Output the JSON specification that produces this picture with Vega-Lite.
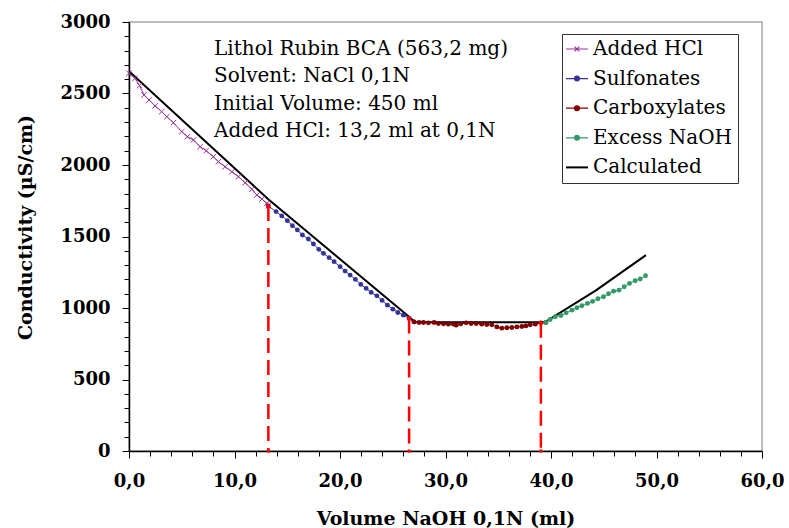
{
  "$schema": "https://vega.github.io/schema/vega-lite/v6.json",
  "width": 633,
  "height": 429,
  "autosize": {"type": "none"},
  "padding": {"left": 129, "top": 22, "right": 27, "bottom": 77},
  "background": "white",
  "config": {
    "view": {"stroke": "#a6a6a6", "strokeWidth": 1.5},
    "axis": {
      "grid": false,
      "domainColor": "black",
      "domainWidth": 1.5,
      "tickColor": "black",
      "tickWidth": 1,
      "labelFont": "DejaVu Serif",
      "labelFontWeight": "bold",
      "labelFontSize": 18,
      "labelColor": "black",
      "titleFont": "DejaVu Serif",
      "titleFontWeight": "bold",
      "titleFontSize": 19,
      "titleColor": "black",
      "labelFlush": false
    },
    "legend": {"labelFont": "DejaVu Serif", "labelFontSize": 20, "labelColor": "black"}
  },
  "datasets": {
    "series": [
      {"series": "Calculated", "x": 0, "y": 2655},
      {"series": "Calculated", "x": 13.2, "y": 1761},
      {"series": "Calculated", "x": 26.6, "y": 935},
      {"series": "Calculated", "x": 27.1, "y": 900},
      {"series": "Calculated", "x": 39.4, "y": 900},
      {"series": "Calculated", "x": 44.3, "y": 1125},
      {"series": "Calculated", "x": 49.0, "y": 1370},

      {"series": "Added HCl", "x": 0, "y": 2641},
      {"series": "Added HCl", "x": 0.57, "y": 2606},
      {"series": "Added HCl", "x": 1.0, "y": 2555},
      {"series": "Added HCl", "x": 1.42, "y": 2490},
      {"series": "Added HCl", "x": 1.9, "y": 2455},
      {"series": "Added HCl", "x": 2.47, "y": 2413},
      {"series": "Added HCl", "x": 3.1, "y": 2373},
      {"series": "Added HCl", "x": 3.58, "y": 2338},
      {"series": "Added HCl", "x": 4.21, "y": 2296},
      {"series": "Added HCl", "x": 5.0, "y": 2233},
      {"series": "Added HCl", "x": 5.54, "y": 2198},
      {"series": "Added HCl", "x": 6.11, "y": 2175},
      {"series": "Added HCl", "x": 6.74, "y": 2128},
      {"series": "Added HCl", "x": 7.31, "y": 2100},
      {"series": "Added HCl", "x": 8.0, "y": 2058},
      {"series": "Added HCl", "x": 8.48, "y": 2023},
      {"series": "Added HCl", "x": 9.11, "y": 1988},
      {"series": "Added HCl", "x": 9.75, "y": 1953},
      {"series": "Added HCl", "x": 10.38, "y": 1918},
      {"series": "Added HCl", "x": 11.01, "y": 1876},
      {"series": "Added HCl", "x": 11.65, "y": 1830},
      {"series": "Added HCl", "x": 12.12, "y": 1790},
      {"series": "Added HCl", "x": 12.6, "y": 1762},
      {"series": "Added HCl", "x": 13.07, "y": 1732},
      {"series": "Added HCl", "x": 13.2, "y": 1714},

      {"series": "Sulfonates", "x": 13.2, "y": 1714},
      {"series": "Sulfonates", "x": 13.94, "y": 1674},
      {"series": "Sulfonates", "x": 14.48, "y": 1644},
      {"series": "Sulfonates", "x": 15.01, "y": 1611},
      {"series": "Sulfonates", "x": 15.49, "y": 1576},
      {"series": "Sulfonates", "x": 15.96, "y": 1546},
      {"series": "Sulfonates", "x": 16.44, "y": 1511},
      {"series": "Sulfonates", "x": 17.0, "y": 1483},
      {"series": "Sulfonates", "x": 17.48, "y": 1448},
      {"series": "Sulfonates", "x": 17.99, "y": 1410},
      {"series": "Sulfonates", "x": 18.43, "y": 1382},
      {"series": "Sulfonates", "x": 18.97, "y": 1352},
      {"series": "Sulfonates", "x": 19.44, "y": 1324},
      {"series": "Sulfonates", "x": 20.01, "y": 1289},
      {"series": "Sulfonates", "x": 20.48, "y": 1258},
      {"series": "Sulfonates", "x": 20.96, "y": 1230},
      {"series": "Sulfonates", "x": 21.46, "y": 1200},
      {"series": "Sulfonates", "x": 21.97, "y": 1165},
      {"series": "Sulfonates", "x": 22.48, "y": 1137},
      {"series": "Sulfonates", "x": 22.95, "y": 1109},
      {"series": "Sulfonates", "x": 23.49, "y": 1085},
      {"series": "Sulfonates", "x": 23.99, "y": 1053},
      {"series": "Sulfonates", "x": 24.5, "y": 1020},
      {"series": "Sulfonates", "x": 25.01, "y": 992},
      {"series": "Sulfonates", "x": 25.48, "y": 969},
      {"series": "Sulfonates", "x": 26.01, "y": 950},
      {"series": "Sulfonates", "x": 26.55, "y": 927},
      {"series": "Sulfonates", "x": 27.02, "y": 903},

      {"series": "Carboxylates", "x": 27.02, "y": 903},
      {"series": "Carboxylates", "x": 27.5, "y": 899},
      {"series": "Carboxylates", "x": 27.91, "y": 899},
      {"series": "Carboxylates", "x": 28.38, "y": 896},
      {"series": "Carboxylates", "x": 28.92, "y": 899},
      {"series": "Carboxylates", "x": 29.33, "y": 892},
      {"series": "Carboxylates", "x": 29.81, "y": 889},
      {"series": "Carboxylates", "x": 30.28, "y": 887},
      {"series": "Carboxylates", "x": 30.76, "y": 887},
      {"series": "Carboxylates", "x": 31.01, "y": 880},
      {"series": "Carboxylates", "x": 31.45, "y": 889},
      {"series": "Carboxylates", "x": 31.96, "y": 896},
      {"series": "Carboxylates", "x": 32.43, "y": 892},
      {"series": "Carboxylates", "x": 32.91, "y": 892},
      {"series": "Carboxylates", "x": 33.44, "y": 887},
      {"series": "Carboxylates", "x": 33.92, "y": 885},
      {"series": "Carboxylates", "x": 34.39, "y": 882},
      {"series": "Carboxylates", "x": 34.87, "y": 868},
      {"series": "Carboxylates", "x": 35.34, "y": 859},
      {"series": "Carboxylates", "x": 35.82, "y": 862},
      {"series": "Carboxylates", "x": 36.29, "y": 864},
      {"series": "Carboxylates", "x": 36.77, "y": 868},
      {"series": "Carboxylates", "x": 37.24, "y": 871},
      {"series": "Carboxylates", "x": 37.62, "y": 875},
      {"series": "Carboxylates", "x": 38.03, "y": 882},
      {"series": "Carboxylates", "x": 38.51, "y": 887},
      {"series": "Carboxylates", "x": 39.04, "y": 896},
      {"series": "Carboxylates", "x": 39.51, "y": 899},

      {"series": "Excess NaOH", "x": 39.51, "y": 899},
      {"series": "Excess NaOH", "x": 39.92, "y": 920},
      {"series": "Excess NaOH", "x": 40.4, "y": 939},
      {"series": "Excess NaOH", "x": 40.94, "y": 948},
      {"series": "Excess NaOH", "x": 41.44, "y": 966},
      {"series": "Excess NaOH", "x": 41.98, "y": 985},
      {"series": "Excess NaOH", "x": 42.46, "y": 1002},
      {"series": "Excess NaOH", "x": 42.93, "y": 1016},
      {"series": "Excess NaOH", "x": 43.46, "y": 1032},
      {"series": "Excess NaOH", "x": 43.94, "y": 1046},
      {"series": "Excess NaOH", "x": 44.45, "y": 1065},
      {"series": "Excess NaOH", "x": 44.98, "y": 1079},
      {"series": "Excess NaOH", "x": 45.45, "y": 1100},
      {"series": "Excess NaOH", "x": 45.93, "y": 1118},
      {"series": "Excess NaOH", "x": 46.44, "y": 1125},
      {"series": "Excess NaOH", "x": 46.94, "y": 1149},
      {"series": "Excess NaOH", "x": 47.44, "y": 1172},
      {"series": "Excess NaOH", "x": 47.98, "y": 1191},
      {"series": "Excess NaOH", "x": 48.46, "y": 1203},
      {"series": "Excess NaOH", "x": 48.96, "y": 1226}
    ],
    "endpoints": [
      {"x": 13.21, "top": 1714},
      {"x": 26.55, "top": 927},
      {"x": 39.04, "top": 896}
    ],
    "notes": [
      {"text": "Lithol Rubin BCA (563,2 mg)"}
    ]
  },
  "resolve": {"axis": {"x": "independent", "y": "independent"}},
  "layer": [
    {
      "layer": [
        {
          "data": {"name": "series"},
          "transform": [{"filter": "datum.series === 'Calculated'"}],
          "mark": {"type": "line", "strokeWidth": 2},
          "encoding": {
            "x": {"field": "x", "type": "quantitative", "scale": {"domain": [0, 60], "nice": false},
              "axis": {
                "orient": "bottom",
                "title": "Volume NaOH 0,1N (ml)",
                "values": [0, 10, 20, 30, 40, 50, 60],
                "labelExpr": "replace(format(datum.value, '.1f'), '.', ',')",
                "labelOverlap": false,
                "tickSize": 7,
                "labelPadding": 14,
                "titleBaseline": "alphabetic",
                "titleY": 73
              }},
            "y": {"field": "y", "type": "quantitative", "scale": {"domain": [0, 3000], "nice": false},
              "axis": {
                "orient": "left",
                "title": "Conductivity (µS/cm)",
                "values": [0, 500, 1000, 1500, 2000, 2500, 3000],
                "format": "d",
                "labelOverlap": false,
                "tickSize": 7,
                "labelPadding": 12,
                "titleBaseline": "alphabetic",
                "titleX": -98,
                "titleY": 205
              }},
            "color": {"field": "series", "type": "nominal",
              "scale": {"domain": ["Added HCl", "Sulfonates", "Carboxylates", "Excess NaOH", "Calculated"],
                        "range": ["#993399", "#333399", "#800000", "#339966", "#000000"]},
              "legend": {
                "title": null,
                "orient": "none",
                "legendX": 433,
                "legendY": 12,
                "padding": 5,
                "fillColor": "white",
                "strokeColor": "#333333",
                "labelFont": "DejaVu Serif",
                "labelFontSize": 20,
                "labelColor": "black",
                "labelLimit": 0,
                "labelOffset": 6,
                "symbolSize": 484,
                "rowPadding": 9.6,
                "encode": {
                  "symbols": {"update": {
                    "shape": {"signal": "datum.value === 'Added HCl' ? 'M-1,0L1,0M-0.22,-0.22L0.22,0.22M-0.22,0.22L0.22,-0.22' : (datum.value === 'Calculated' ? 'M-1,0L1,0' : 'M-1,0L1,0M-0.22,0A0.22,0.22 0 1,0 0.22,0A0.22,0.22 0 1,0 -0.22,0')"},
                    "fill": {"signal": "(datum.value === 'Added HCl' || datum.value === 'Calculated') ? 'transparent' : scale('color', datum.value)"},
                    "stroke": {"signal": "scale('color', datum.value)"},
                    "strokeWidth": {"signal": "datum.value === 'Calculated' ? 2 : 1.2"},
                    "opacity": {"value": 1},
                    "fillOpacity": {"value": 1},
                    "strokeOpacity": {"value": 1}
                  }}
                }
              }}
          }
        },
        {
          "data": {"name": "series"},
          "transform": [{"filter": "datum.series !== 'Calculated'"}],
          "mark": {"type": "line", "strokeWidth": 1},
          "encoding": {
            "x": {"field": "x", "type": "quantitative"},
            "y": {"field": "y", "type": "quantitative"},
            "color": {"field": "series", "type": "nominal"}
          }
        },
        {
          "data": {"name": "series"},
          "transform": [{"filter": "datum.series === 'Added HCl'"}],
          "mark": {"type": "point", "shape": "M-1,-1L1,1M-1,1L1,-1", "filled": false, "size": 30, "strokeWidth": 1, "opacity": 1},
          "encoding": {
            "x": {"field": "x", "type": "quantitative"},
            "y": {"field": "y", "type": "quantitative"},
            "color": {"field": "series", "type": "nominal"}
          }
        },
        {
          "data": {"name": "series"},
          "transform": [{"filter": "datum.series === 'Sulfonates' || datum.series === 'Carboxylates' || datum.series === 'Excess NaOH'"}],
          "mark": {"type": "circle", "size": 24, "opacity": 1},
          "encoding": {
            "x": {"field": "x", "type": "quantitative"},
            "y": {"field": "y", "type": "quantitative"},
            "color": {"field": "series", "type": "nominal"}
          }
        },
        {
          "data": {"name": "endpoints"},
          "mark": {"type": "rule", "color": "#ff0000", "strokeWidth": 2.5, "strokeDash": [15, 7]},
          "encoding": {
            "x": {"field": "x", "type": "quantitative"},
            "y": {"field": "top", "type": "quantitative"},
            "y2": {"datum": 0}
          }
        },
        {
          "data": {"name": "endpoints"},
          "mark": {"type": "circle", "size": 18, "color": "#ff0000", "opacity": 1},
          "encoding": {
            "x": {"field": "x", "type": "quantitative"},
            "y": {"field": "top", "type": "quantitative"}
          }
        },
        {
          "data": {"name": "endpoints"},
          "mark": {"type": "circle", "size": 14, "color": "#ff0000", "opacity": 1},
          "encoding": {
            "x": {"field": "x", "type": "quantitative"},
            "y": {"datum": 0, "type": "quantitative"}
          }
        },
        {
          "data": {"name": "notes"},
          "mark": {"type": "text", "text": ["Lithol Rubin BCA (563,2 mg)", "Solvent: NaCl 0,1N", "Initial Volume: 450 ml", "Added HCl: 13,2 ml at 0,1N"],
            "font": "DejaVu Serif", "fontSize": 20, "lineHeight": 27.4, "align": "left", "baseline": "alphabetic", "color": "black"},
          "encoding": {
            "x": {"datum": 8.06, "type": "quantitative"},
            "y": {"datum": 2771, "type": "quantitative"}
          }
        }
      ]
    },
    {
      "data": {"name": "endpoints"},
      "mark": {"type": "point", "opacity": 0},
      "encoding": {
        "x": {"field": "x", "type": "quantitative",
          "axis": {
            "orient": "bottom",
            "title": null,
            "labels": false,
            "domain": false,
            "values": [2,4,6,8,12,14,16,18,22,24,26,28,32,34,36,38,42,44,46,48,52,54,56,58],
            "tickSize": 5
          }},
        "y": {"field": "top", "type": "quantitative",
          "axis": {
            "orient": "left",
            "title": null,
            "labels": false,
            "domain": false,
            "values": [100,200,300,400,600,700,800,900,1100,1200,1300,1400,1600,1700,1800,1900,2100,2200,2300,2400,2600,2700,2800,2900],
            "tickSize": 5
          }}
      }
    }
  ]
}
